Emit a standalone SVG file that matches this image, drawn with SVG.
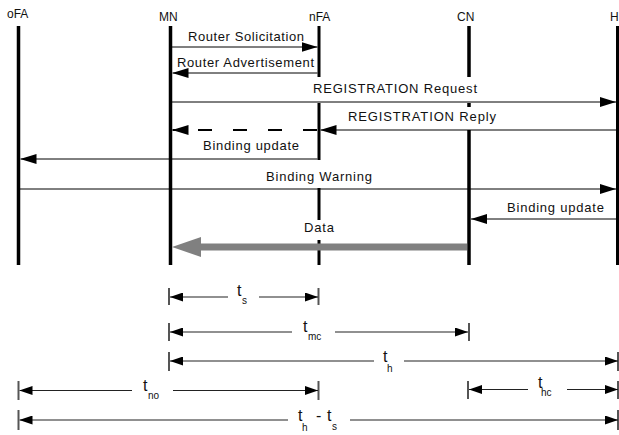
<svg xmlns="http://www.w3.org/2000/svg" width="619" height="435" viewBox="0 0 619 435">
<style>
text{font-family:"Liberation Sans",Arial,sans-serif;fill:#111}
.hd{font-size:12px}
.lb{font-size:13px}
.life{stroke:#000;stroke-width:3.5;fill:none}
.msg{stroke:#000;stroke-width:1;fill:none}
.dash{stroke:#000;stroke-width:2;stroke-dasharray:14 21;fill:none}
.data{stroke:#808080;stroke-width:7;fill:none}
.tm{stroke:#222;stroke-width:1.2;fill:none}
.tick{stroke:#555;stroke-width:2}
.t{font-size:16px}
.sub{font-size:10px}
</style>
<defs>
<marker id="ah" markerUnits="userSpaceOnUse" markerWidth="16" markerHeight="10" viewBox="0 0 16 10" refX="16" refY="5" orient="auto"><path d="M0,0 L16,5 L0,10 z" fill="#000"/></marker>
<marker id="th" markerUnits="userSpaceOnUse" markerWidth="13" markerHeight="9" viewBox="0 0 13 9" refX="13" refY="4.5" orient="auto"><path d="M0,0 L13,4.5 L0,9 z" fill="#000"/></marker>
<marker id="dh" markerUnits="userSpaceOnUse" markerWidth="29" markerHeight="20" viewBox="0 0 29 20" refX="0" refY="10" orient="auto"><path d="M0,0 L29,10 L0,20 z" fill="#808080"/></marker>
</defs>
<rect width="619" height="435" fill="#fff"/>
<g id="oFA"><text class="hd" x="7" y="18">oFA</text><path class="life" d="M18.5,26 V265"/></g>
<g id="MN"><text class="hd" x="159" y="21">MN</text><path class="life" d="M170.5,26 V265"/></g>
<g id="nFA"><text class="hd" x="309" y="21">nFA</text><path class="life" style="stroke-width:3" d="M319,26 V77 M319,103 V160 M319,188 V220 M319,240 V265"/></g>
<g id="CN"><text class="hd" x="457" y="21">CN</text><path class="life" d="M469,26 V77 M469,103 V107 M469,130 V265"/></g>
<g id="H"><text class="hd" x="610" y="21">H</text><path class="life" style="stroke-width:3" d="M617.5,26 V265"/></g>
<g id="connectors">
<line class="msg" x1="172" y1="47" x2="317.5" y2="47" marker-end="url(#ah)"/>
<text class="lb" x="188" y="41" textLength="116" lengthAdjust="spacing">Router Solicitation</text>
<line class="msg" x1="317.5" y1="73" x2="172.5" y2="73" marker-end="url(#ah)"/>
<text class="lb" x="177" y="67" textLength="137" lengthAdjust="spacing">Router Advertisement</text>
<line class="msg" x1="172" y1="102" x2="616" y2="102" marker-end="url(#ah)"/>
<text class="lb" x="313" y="93" textLength="164" lengthAdjust="spacing">REGISTRATION Request</text>
<line class="msg" x1="616" y1="130" x2="320.5" y2="130" marker-end="url(#ah)"/>
<path class="dash" d="M317,130 H172.5" marker-end="url(#ah)"/>
<text class="lb" x="348" y="121" textLength="148" lengthAdjust="spacing">REGISTRATION Reply</text>
<line class="msg" x1="317.5" y1="159" x2="20.5" y2="159" marker-end="url(#ah)"/>
<text class="lb" x="203" y="150" textLength="96" lengthAdjust="spacing">Binding update</text>
<line class="msg" x1="20" y1="189" x2="616" y2="189" marker-end="url(#ah)"/>
<text class="lb" x="266" y="181" textLength="106" lengthAdjust="spacing">Binding Warning</text>
<line class="msg" x1="616" y1="219" x2="471" y2="219" marker-end="url(#ah)"/>
<text class="lb" x="507" y="212" textLength="97" lengthAdjust="spacing">Binding update</text>
<line class="data" x1="467" y1="247" x2="201" y2="247" marker-end="url(#dh)"/>
<text class="lb" x="304" y="232" textLength="30" lengthAdjust="spacing">Data</text>
</g>
<g id="timing">
<g id="ts">
<line class="tick" x1="169" y1="288" x2="169" y2="305"/><line class="tick" x1="318.5" y1="288" x2="318.5" y2="305"/>
<line class="tm" x1="228" y1="297" x2="170" y2="297" marker-end="url(#th)"/>
<line class="tm" x1="259" y1="297" x2="318" y2="297" marker-end="url(#th)"/>
<text class="t" x="237" y="296">t</text><text class="sub" x="242" y="304">s</text>
</g>
<g id="tmc">
<line class="tick" x1="169" y1="323" x2="169" y2="341"/><line class="tick" x1="469" y1="323" x2="469" y2="341"/>
<line class="tm" x1="292" y1="332" x2="170" y2="332" marker-end="url(#th)"/>
<line class="tm" x1="335" y1="332" x2="468" y2="332" marker-end="url(#th)"/>
<text class="t" x="303" y="332">t</text><text class="sub" x="308" y="340">mc</text>
</g>
<g id="th-span">
<line class="tick" x1="169" y1="352" x2="169" y2="371"/><line class="tick" x1="618" y1="352" x2="618" y2="371"/>
<line class="tm" x1="374" y1="361" x2="170" y2="361" marker-end="url(#th)"/>
<line class="tm" x1="404" y1="361" x2="618" y2="361" marker-end="url(#th)"/>
<text class="t" x="383" y="362">t</text><text class="sub" x="387" y="372">h</text>
</g>
<g id="tno">
<line class="tick" x1="18.5" y1="381" x2="18.5" y2="400"/><line class="tick" x1="318.5" y1="381" x2="318.5" y2="400"/>
<line class="tm" x1="132" y1="390.5" x2="19.5" y2="390.5" marker-end="url(#th)"/>
<line class="tm" x1="173" y1="390.5" x2="318" y2="390.5" marker-end="url(#th)"/>
<text class="t" x="143" y="391">t</text><text class="sub" x="148" y="399">no</text>
</g>
<g id="thc">
<line class="tick" x1="468" y1="381" x2="468" y2="399"/><line class="tick" x1="618" y1="381" x2="618" y2="399"/>
<line class="tm" x1="528" y1="389.5" x2="469" y2="389.5" marker-end="url(#th)"/>
<line class="tm" x1="567" y1="389.5" x2="618" y2="389.5" marker-end="url(#th)"/>
<text class="t" x="538" y="388">t</text><text class="sub" x="541" y="396">hc</text>
</g>
<g id="th-ts">
<line class="tick" x1="18.5" y1="410" x2="18.5" y2="430"/><line class="tick" x1="618" y1="410" x2="618" y2="430"/>
<line class="tm" x1="288" y1="420" x2="19.5" y2="420" marker-end="url(#th)"/>
<line class="tm" x1="350" y1="420" x2="618" y2="420" marker-end="url(#th)"/>
<text class="t" x="298" y="421">t</text><text class="sub" x="302" y="431">h</text>
<text class="t" x="316" y="421">-</text>
<text class="t" x="327" y="421">t</text><text class="sub" x="332" y="430">s</text>
</g>
</g>
</svg>
